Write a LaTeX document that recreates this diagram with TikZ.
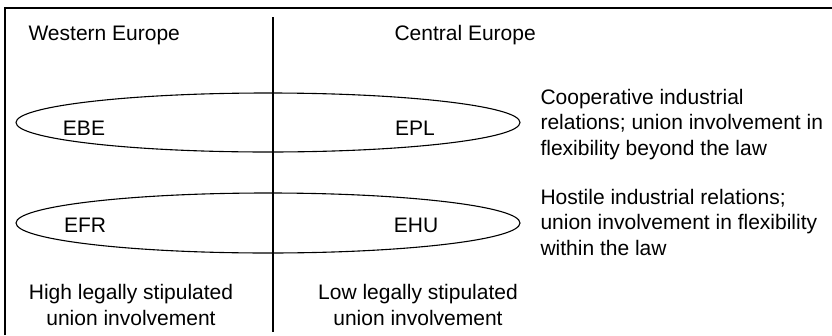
\documentclass[tikz,border=0pt]{standalone}
\usepackage{fontspec}
\setmainfont{Liberation Sans}

\begin{document}
\begin{tikzpicture}[x=1pt,y=-1pt,line width=1.1pt,
    every node/.style={inner sep=0pt,font=\fontsize{21}{25.5}\selectfont}]
    % Fix the page size
    \useasboundingbox (0,0) rectangle (832,335);
    % Draw the frame and the dividing line
    \draw (5,335) -- (5,8) -- (832,8);
    \draw (273,17) -- (273,332);
    % Draw the two ellipses
    \draw (268,122.5) ellipse (252 and 29.5);
    \draw (268,223) ellipse (252 and 30);
    % Label the regions
    \node[anchor=base west] (west) at (28,40) {Western Europe};
    \node[anchor=base west] (central) at (394,40) {Central Europe};
    % Label the countries
    \node[anchor=base] (ebe) at (84,135) {EBE};
    \node[anchor=base] (epl) at (415,135) {EPL};
    \node[anchor=base] (efr) at (85,232) {EFR};
    \node[anchor=base] (ehu) at (416,232) {EHU};
    % Describe the relations (base is the last line)
    \node[anchor=base west,align=left] (coop) at (540,155)
        {Cooperative industrial\\relations; union involvement in\\flexibility beyond the law};
    \node[anchor=base west,align=left] (hostile) at (540,255)
        {Hostile industrial relations;\\union involvement in flexibility\\within the law};
    % Label the columns at the bottom
    \node[anchor=base,align=center] (high) at (131,325)
        {High legally stipulated\\union involvement};
    \node[anchor=base,align=center] (low) at (418,325)
        {Low legally stipulated\\union involvement};
\end{tikzpicture}
\end{document}
